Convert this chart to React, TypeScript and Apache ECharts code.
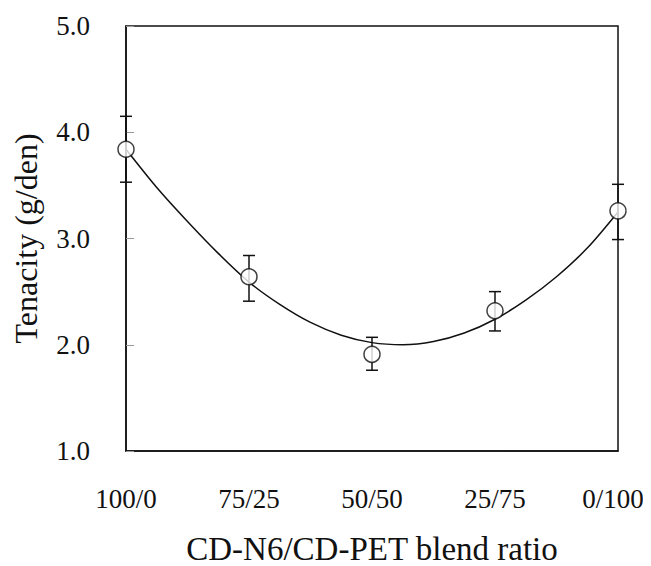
import React, { useEffect, useRef } from "react";
import * as echarts from "echarts";

const categories = ["100/0", "75/25", "50/50", "25/75", "0/100"];
const tenacity = [3.84, 2.64, 1.91, 2.32, 3.26];
const errLow = [3.53, 2.41, 1.76, 2.13, 2.99];
const errHigh = [4.15, 2.84, 2.07, 2.5, 3.51];
const curveX = [0, 0.25, 0.5, 0.75, 1, 1.25, 1.5, 1.75, 2, 2.25, 2.5, 2.75, 3, 3.25, 3.5, 3.75, 4];
const curveY = [3.84, 3.48, 3.16, 2.86, 2.59, 2.38, 2.21, 2.09, 2.02, 2.0, 2.03, 2.11, 2.24, 2.42, 2.64, 2.91, 3.25];
const yTicks = [1, 2, 3, 4, 5];

const FONT = "'Liberation Serif', 'Times New Roman', serif";

export default function App() {
  const ref = useRef<HTMLDivElement>(null);
  useEffect(() => {
    if (!ref.current) return;
    const chart = echarts.init(ref.current, undefined, { renderer: "svg" });
    const labelStyle = { fontFamily: FONT, fontSize: 27, color: "#111" };
    chart.setOption({
      animation: false,
      backgroundColor: "#fff",
      grid: {
        left: 126,
        right: 33,
        top: 26,
        bottom: 115,
        outerBoundsMode: "none",
        containLabel: false,
        show: true,
        borderColor: "#111",
        borderWidth: 1.5,
        backgroundColor: "transparent",
      },
      xAxis: {
        type: "value",
        min: 0,
        max: categories.length - 1,
        interval: 1,
        name: "CD-N6/CD-PET blend ratio",
        nameLocation: "middle",
        nameGap: 81,
        nameTextStyle: { fontFamily: FONT, fontSize: 33, lineHeight: 33, color: "#111" },
        axisLine: { show: true, lineStyle: { color: "#111", width: 1.5 } },
        axisTick: { show: false },
        splitLine: { show: false },
        axisLabel: {
          margin: 34,
          ...labelStyle,
          formatter: (v: number) => {
            const i = Math.round(v);
            const t = categories[i] ?? "";
            return i === categories.length - 1 ? `{last|${t}}` : `{n|${t}}`;
          },
          rich: {
            n: { ...labelStyle },
            last: { ...labelStyle, padding: [0, 10, 0, 0] },
          },
        },
      },
      yAxis: {
        type: "value",
        min: yTicks[0],
        max: yTicks[yTicks.length - 1],
        interval: 1,
        name: "Tenacity (g/den)",
        nameLocation: "middle",
        nameGap: 84,
        nameTextStyle: { fontFamily: FONT, fontSize: 32, color: "#111" },
        axisLine: { show: true, lineStyle: { color: "#111", width: 1.5 } },
        axisTick: { show: true, inside: true, length: 8, lineStyle: { color: "#999", width: 1 } },
        splitLine: { show: false },
        axisLabel: {
          margin: 36,
          ...labelStyle,
          formatter: (v: number) => v.toFixed(1),
        },
      },
      series: [
        {
          type: "line",
          data: curveX.map((x, i) => [x, curveY[i]]),
          smooth: 0.3,
          showSymbol: false,
          lineStyle: { color: "#111", width: 1.5 },
          z: 2,
        },
        {
          type: "custom",
          data: categories.map((_, i) => [i, errLow[i], errHigh[i]]),
          renderItem: (params: any, api: any) => {
            const x = api.value(0);
            const lo = api.coord([x, api.value(1)]);
            const hi = api.coord([x, api.value(2)]);
            const hw = 6;
            const style = { stroke: "#111", lineWidth: 1.5 };
            return {
              type: "group",
              children: [
                { type: "line", shape: { x1: lo[0], y1: lo[1], x2: hi[0], y2: hi[1] }, style },
                { type: "line", shape: { x1: hi[0] - hw, y1: hi[1], x2: hi[0] + hw, y2: hi[1] }, style },
                { type: "line", shape: { x1: lo[0] - hw, y1: lo[1], x2: lo[0] + hw, y2: lo[1] }, style },
              ],
            };
          },
          z: 3,
        },
        {
          type: "scatter",
          data: categories.map((_, i) => [i, tenacity[i]]),
          symbol: "circle",
          symbolSize: 16,
          itemStyle: { color: "#fff", borderColor: "#111", borderWidth: 1.5 },
          z: 4,
        },
      ],
    });
    return () => chart.dispose();
  }, []);
  return <div ref={ref} style={{ width: 651, height: 566, marginLeft: -8, marginTop: -8 }} />;
}
